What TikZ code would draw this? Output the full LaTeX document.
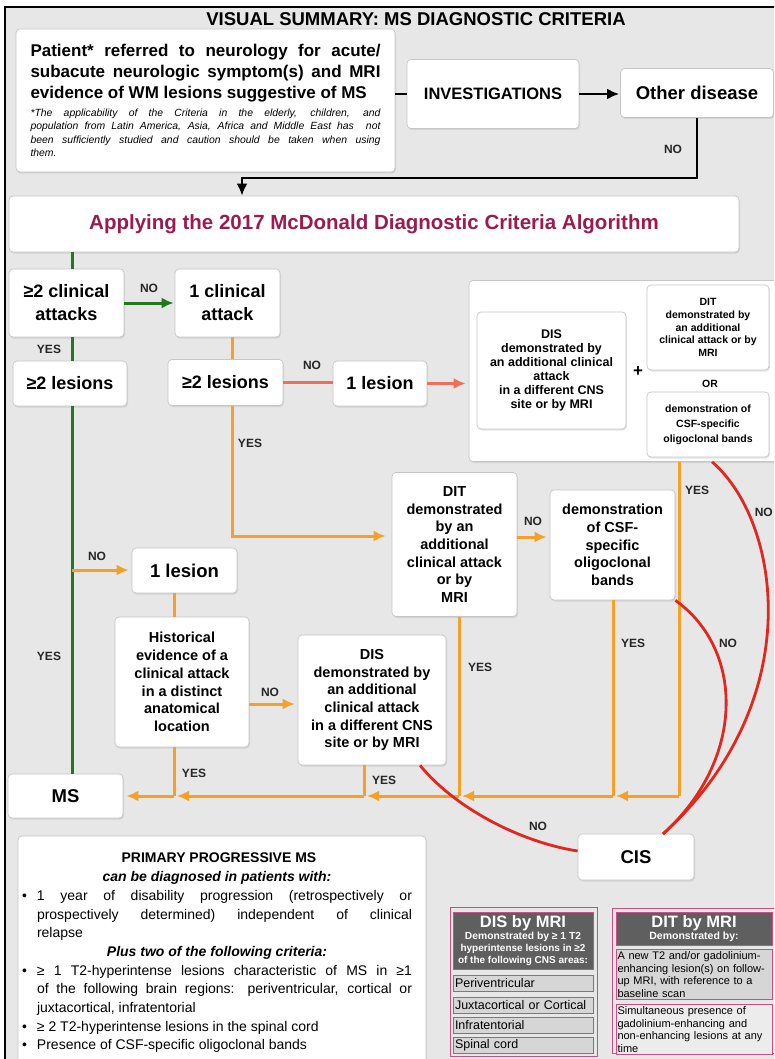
\documentclass[tikz,border=0pt]{standalone}
\usepackage{fontspec}
\setmainfont{Liberation Sans}
\usepackage{tikz}
\usetikzlibrary{arrows.meta,positioning,calc,shadows}
\definecolor{bggray}{RGB}{231, 231, 231}
\definecolor{boxline}{RGB}{198, 198, 198}
\definecolor{mcdred}{RGB}{155, 27, 80}
\definecolor{flowgreen}{RGB}{34, 120, 30}
\definecolor{floworange}{RGB}{246, 160, 40}
\definecolor{flowsalmon}{RGB}{240, 110, 90}
\definecolor{flowred}{RGB}{225, 40, 30}
\definecolor{tabpink}{RGB}{200, 80, 135}
\definecolor{tabdark}{RGB}{95, 95, 95}
\definecolor{tabrow}{RGB}{214, 214, 214}
\definecolor{tabrowlight}{RGB}{236, 236, 236}

\newcommand{\fsz}[2]{\fontsize{#1}{#2}\selectfont}
\newcommand{\ppitem}{\noindent\hangindent=15pt\hangafter=1\makebox[15pt][l]{\textbullet}}

\tikzset{
  box/.style={draw=boxline, fill=white, rounded corners=4pt, line width=0.7pt,
    align=center, inner sep=2pt,
    drop shadow={opacity=0.2, shadow xshift=1pt, shadow yshift=-1.5pt}},
  yn/.style={font=\fsz{12}{14}\bfseries, text=black!85, inner sep=0pt},
  kline/.style={draw=black, line width=2.6pt},
  gline/.style={draw=flowgreen, line width=3pt},
  oline/.style={draw=floworange, line width=3pt},
  sline/.style={draw=flowsalmon, line width=3pt},
  rline/.style={draw=flowred, line width=2.8pt},
  tip/.style={-{Latex[length=12pt,width=11pt]}, shorten >=3pt},
  tabhead/.style={draw=tabpink, fill=tabdark, text=white, font=\bfseries,
    align=center, inner sep=1pt, line width=0.6pt},
  tabline/.style={draw=tabpink, fill=tabrow, align=left, inner sep=1.5pt,
    line width=0.6pt}
}

\begin{document}
\begin{tikzpicture}[x=1pt,y=-1pt]
  \useasboundingbox (0,0) rectangle (774,1059);
  \clip (0,0) rectangle (774,1059);
  % page frame
  \fill[white] (0,0) rectangle (774,1059);
  \fill[bggray] (5,7) rectangle (790,1070);
  \draw[line width=2pt] (5,1070) -- (5,7) -- (790,7);

  \node[font=\fsz{18.5}{20}\bfseries] (title) at (416,19) {VISUAL SUMMARY: MS DIAGNOSTIC CRITERIA};

  % entry and investigations
  \node[box, text width=350pt, minimum width=379pt, minimum height=143pt, align=justify] (patient) at (205.5,100.5)
    {\fsz{17}{21}\bfseries Patient* referred to neurology for acute/\linebreak
     subacute neurologic symptom(s) and MRI\linebreak
     evidence of WM lesions suggestive of MS\par\vspace{4pt}
     \fsz{10.4}{13.6}\mdseries\itshape *The applicability of the Criteria in the elderly, children, and\linebreak
     population from Latin America, Asia, Africa and Middle East has~ not\linebreak
     been sufficiently studied and caution should be taken when using\linebreak
     them.\par};
  \node[box, minimum width=172pt, minimum height=69pt, font=\fsz{16.5}{18}\bfseries] (inv) at (493,94) {INVESTIGATIONS};
  \node[box, minimum width=153pt, minimum height=49pt, font=\fsz{18.5}{20}\bfseries] (other) at (697,93) {Other disease};
  \node[box, minimum width=730pt, minimum height=56pt, font=\fsz{20.5}{22}\bfseries, text=mcdred] (apply) at (374,224)
    {Applying the 2017 McDonald Diagnostic Criteria Algorithm};

  \coordinate (bend) at (242,178);
  \draw[kline] (inv.west -| patient.east) -- (inv.west);
  \draw[kline, tip, shorten >=1pt] (inv.east) -- (inv.east -| other.west);
  \draw[kline, tip, shorten >=0pt] (other.south) |- (bend) -- (bend |- apply.north);
  \node[yn] (no1) at (673,149) {NO};

  % clinical attacks and lesions
  \node[box, minimum width=115pt, minimum height=68pt, font=\fsz{18}{23}\bfseries] (clin2) at (66.5,303) {≥2 clinical\\attacks};
  \node[box, minimum width=105pt, minimum height=68pt, font=\fsz{18}{23}\bfseries] (clin1) at (227.5,303) {1 clinical\\attack};
  \node[box, minimum width=114pt, minimum height=45pt, font=\fsz{18}{20}\bfseries] (les2a) at (70,383.5) {≥2 lesions};
  \node[box, minimum width=115pt, minimum height=46pt, font=\fsz{18}{20}\bfseries] (les2b) at (225.5,382.5) {≥2 lesions};
  \node[box, minimum width=94pt, minimum height=45pt, font=\fsz{18}{20}\bfseries] (les1a) at (380,383.5) {1 lesion};

  % DIS + DIT panel
  \node[box, minimum width=312pt, minimum height=181pt] (panel) at (625,371) {};
  \node[box, minimum width=149pt, minimum height=117pt, font=\fsz{12.5}{14}\bfseries] (dis1) at (551.5,370.5)
    {DIS\\demonstrated by\\an additional clinical\\attack\\in a different CNS\\site or by MRI};
  \node[box, minimum width=122pt, minimum height=85pt, font=\fsz{10.5}{12.7}\bfseries] (dit1) at (708,327.5)
    {DIT\\demonstrated by\\an additional\\clinical attack or by\\MRI};
  \node[box, minimum width=122pt, minimum height=65pt, font=\fsz{10.5}{15}\bfseries] (csf1) at (708,424.5)
    {demonstration of\\CSF-specific\\oligoclonal bands};
  \node[font=\fsz{17}{18}\bfseries] (plus) at (638,372) {+};
  \node[font=\fsz{10.5}{12}\bfseries] (or) at (710,384) {OR};

  % second row of tests
  \node[box, minimum width=125pt, minimum height=144pt, font=\fsz{14.5}{17.7}\bfseries] (dit2) at (454.5,544.5)
    {DIT\\demonstrated\\by an\\additional\\clinical attack\\or by\\MRI};
  \node[box, minimum width=125pt, minimum height=110pt, font=\fsz{14.5}{17.7}\bfseries] (csf2) at (612.5,545)
    {demonstration\\of CSF-\\specific\\oligoclonal\\bands};
  \node[box, minimum width=105pt, minimum height=45pt, font=\fsz{18.5}{20}\bfseries] (les1b) at (184.5,570.5) {1 lesion};
  \node[box, minimum width=134pt, minimum height=130pt, font=\fsz{14.5}{17.7}\bfseries] (hist) at (182,682)
    {Historical\\evidence of a\\clinical attack\\in a distinct\\anatomical\\location};
  \node[box, minimum width=148pt, minimum height=130pt, font=\fsz{14.5}{17.7}\bfseries] (dis2) at (372,700)
    {DIS\\demonstrated by\\an additional\\clinical attack\\in a different CNS\\site or by MRI};

  % outcomes
  \node[box, minimum width=115pt, minimum height=44pt, font=\fsz{18.5}{20}\bfseries] (ms) at (65.5,796) {MS};
  \node[box, minimum width=116pt, minimum height=46pt, font=\fsz{18.5}{20}\bfseries] (cis) at (636,857) {CIS};

  % green path
  \coordinate (gx) at (72,0);
  \draw[gline] (apply.south -| gx) -- (clin2.north -| gx);
  \draw[gline] (clin2.south -| gx) -- (les2a.north -| gx);
  \draw[gline] (les2a.south -| gx) -- (ms.north -| gx);
  \draw[gline, tip, shorten >=1pt] (clin2.east) -- (clin1.west);
  \node[yn] (no2) at (149,288) {NO};
  \node[yn] (yes1) at (49,349) {YES};
  \node[yn] (yes4) at (49,656) {YES};

  % salmon path
  \draw[sline] (les2b.east) -- (les2b.east -| les1a.west);
  \draw[sline, tip] (les1a.east) -- (les1a.east -| panel.west);
  \node[yn] (no3) at (312,365) {NO};

  % orange paths
  \coordinate (ox) at (232,0);
  \coordinate (oturn) at (232,536);
  \coordinate (gbr) at (72,570);
  \coordinate (hx) at (174,0);
  \coordinate (hy) at (0,704);
  \coordinate (dy) at (0,537);
  \draw[oline] (clin1.south -| ox) -- (les2b.north -| ox);
  \draw[oline, tip, shorten >=6pt] (les2b.south -| ox) -- (oturn) -- (oturn -| dit2.west);
  \draw[oline, tip] (gbr) -- (gbr -| les1b.west);
  \draw[oline] (les1b.south -| hx) -- (hist.north -| hx);
  \draw[oline, tip] (hist.east |- hy) -- (dis2.west |- hy);
  \draw[oline, tip] (dit2.east |- dy) -- (csf2.west |- dy);
  \node[yn] (yes2) at (250,443) {YES};
  \node[yn] (no6) at (97,556) {NO};
  \node[yn] (no7) at (270,692) {NO};
  \node[yn] (no4) at (533,521) {NO};

  % collecting line towards MS
  \coordinate (bus) at (0,796);
  \coordinate (rx) at (679,0);
  \coordinate (cx) at (613,0);
  \coordinate (dtx) at (459,0);
  \coordinate (ssx) at (364,0);
  \draw[oline] (panel.south -| rx) -- (bus -| rx);
  \draw[oline] (csf2.south -| cx) -- (bus -| cx);
  \draw[oline] (dit2.south -| dtx) -- (bus -| dtx);
  \draw[oline] (dis2.south -| ssx) -- (bus -| ssx);
  \draw[oline] (hist.south -| hx) -- (bus -| hx);
  \draw[oline, tip] (bus -| rx) -- (bus -| cx);
  \draw[oline, tip] (bus -| cx) -- (bus -| dtx);
  \draw[oline, tip] (bus -| dtx) -- (bus -| ssx);
  \draw[oline, tip] (bus -| ssx) -- (bus -| hx);
  \draw[oline, tip] (bus -| hx) -- (ms.east);
  \node[yn] (yes3) at (697,490) {YES};
  \node[yn] (yes5) at (480,667) {YES};
  \node[yn] (yes6) at (633,643) {YES};
  \node[yn] (yes7) at (194,773) {YES};
  \node[yn] (yes8) at (384,780) {YES};

  % red curves to CIS
  \coordinate (cisin) at (663,834);
  \coordinate (px) at (712,0);
  \coordinate (dsx) at (420,0);
  \draw[rline] (panel.south -| px) .. controls (780,520) and (810,700) .. (cisin);
  \draw[rline] (csf2.south east) .. controls (745,650) and (745,760) .. (cisin);
  \draw[rline] (dis2.south -| dsx) .. controls (455,808) and (520,842) .. ($(cis.west)+(0,-6)$);
  \node[yn, anchor=east] (no5) at (773,512) {NO};
  \node[yn] (no8) at (728,643) {NO};
  \node[yn] (no9) at (538,826) {NO};

  % primary progressive MS
  \node[box, minimum width=408pt, minimum height=240pt] (ppbox) at (222,956) {};
  \node[anchor=north, text width=390pt, align=justify, inner sep=0pt] (pptext) at (217,853)
    {\fsz{14}{18.7}
     {\centering\bfseries PRIMARY PROGRESSIVE MS\\ \itshape can be diagnosed in patients with:\par}
     \ppitem 1 year of disability progression (retrospectively or\linebreak
       prospectively determined) independent of clinical\linebreak relapse\par
     {\centering\bfseries\itshape Plus two of the following criteria:\par}
     \ppitem ≥ 1 T2-hyperintense lesions characteristic of MS in ≥1\linebreak
       of the following brain regions: periventricular, cortical or\linebreak
       juxtacortical, infratentorial\par
     \ppitem ≥ 2 T2-hyperintense lesions in the spinal cord\par
     \ppitem Presence of CSF-specific oligoclonal bands\par};

  % DIS by MRI table
  \node[draw=tabpink, line width=0.6pt, minimum width=147pt, minimum height=149pt, inner sep=0pt] (distab) at (523.5,981.5) {};
  \node[tabhead, minimum width=140pt, minimum height=57pt] (dishead) at (523,940.5)
    {\fsz{16.5}{17}DIS by MRI\\ \fsz{10.3}{12}Demonstrated by ≥ 1 T2\\hyperintense lesions in ≥2\\of the following CNS areas:};
  \node[tabline, minimum width=140pt, minimum height=16pt, text width=136pt, font=\fsz{12.5}{14}] (disr1) at (523,983) {Periventricular};
  \node[tabline, minimum width=140pt, minimum height=16pt, text width=136pt, font=\fsz{12.5}{14}] (disr2) at (523,1005) {Juxtacortical or Cortical};
  \node[tabline, minimum width=140pt, minimum height=16pt, text width=136pt, font=\fsz{12.5}{14}] (disr3) at (523,1025) {Infratentorial};
  \node[tabline, minimum width=140pt, minimum height=16pt, text width=136pt, font=\fsz{12.5}{14}] (disr4) at (523,1045) {Spinal cord};

  % DIT by MRI table
  \node[draw=tabpink, line width=0.6pt, minimum width=164pt, minimum height=145pt, inner sep=0pt] (dittab) at (694,980.5) {};
  \node[tabhead, minimum width=156pt, minimum height=33pt] (dithead) at (694,928.5)
    {\fsz{16.5}{16}DIT by MRI\\ \fsz{10.5}{12}Demonstrated by:};
  \node[tabline, minimum width=156pt, minimum height=49pt, text width=153pt, font=\fsz{11}{12.8}] (ditr1) at (694,974.5)
    {A new T2 and/or gadolinium-\\enhancing lesion(s) on follow-\\up MRI, with reference to a\\baseline scan};
  \node[tabline, fill=tabrowlight, minimum width=156pt, minimum height=49pt, text width=153pt, font=\fsz{11}{12.8}] (ditr2) at (694,1029.5)
    {Simultaneous presence of\\gadolinium-enhancing and\\non-enhancing lesions at any\\time};
\end{tikzpicture}
\end{document}
